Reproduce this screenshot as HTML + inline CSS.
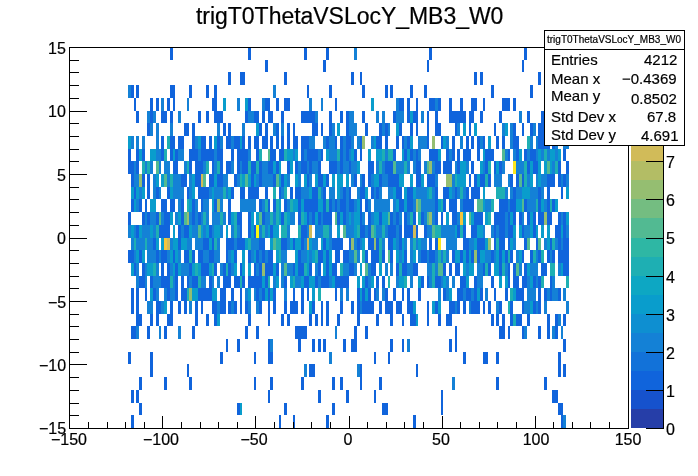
<!DOCTYPE html>
<html><head><meta charset="utf-8"><title>trigT0ThetaVSLocY_MB3_W0</title>
<style>
html,body{margin:0;padding:0;background:#fff;}
body{width:698px;height:476px;overflow:hidden;position:relative;font-family:"Liberation Sans",sans-serif;color:#000;}
svg{position:absolute;left:0;top:0;}
.t{position:absolute;white-space:nowrap;line-height:1;will-change:transform;-webkit-text-stroke:0.2px #000;}
.xl{font-size:16px;}
.st{font-size:15px;}
</style></head><body>
<svg width="698" height="476" viewBox="0 0 698 476" shape-rendering="crispEdges">
<path fill="#1064dc" d="M170 47h3v13h-3zM248 47h3v13h-3zM304 47h3v13h-3zM326 47h3v13h-3zM429 47h3v13h-3zM524 47h3v13h-3zM265 60h3v12h-3zM323 60h3v12h-3zM427 60h2v12h-2zM522 60h2v12h-2zM228 72h3v13h-3zM240 72h2v13h-2zM242 72h3v13h-3zM284 72h3v13h-3zM351 72h3v13h-3zM360 72h2v13h-2zM474 72h3v13h-3zM480 72h3v13h-3zM538 72h3v13h-3zM131 85h3v13h-3zM136 85h3v13h-3zM170 85h3v13h-3zM173 85h2v13h-2zM189 85h3v13h-3zM206 85h3v13h-3zM214 85h3v13h-3zM307 85h2v13h-2zM329 85h3v13h-3zM362 85h3v13h-3zM385 85h3v13h-3zM390 85h3v13h-3zM410 85h3v13h-3zM424 85h3v13h-3zM491 85h3v13h-3zM530 85h3v13h-3zM134 98h2v13h-2zM150 98h3v13h-3zM156 98h3v13h-3zM167 98h3v13h-3zM173 98h2v13h-2zM212 98h2v13h-2zM214 98h3v13h-3zM248 98h3v13h-3zM265 98h3v13h-3zM268 98h2v13h-2zM276 98h3v13h-3zM284 98h3v13h-3zM287 98h3v13h-3zM335 98h2v13h-2zM399 98h3v13h-3zM402 98h2v13h-2zM407 98h3v13h-3zM416 98h2v13h-2zM429 98h3v13h-3zM432 98h3v13h-3zM438 98h3v13h-3zM449 98h3v13h-3zM460 98h3v13h-3zM471 98h3v13h-3zM474 98h3v13h-3zM483 98h2v13h-2zM502 98h3v13h-3zM505 98h3v13h-3zM508 98h2v13h-2zM513 98h3v13h-3zM136 111h3v12h-3zM150 111h3v12h-3zM161 111h3v12h-3zM164 111h3v12h-3zM170 111h3v12h-3zM198 111h3v12h-3zM206 111h3v12h-3zM214 111h3v12h-3zM217 111h3v12h-3zM220 111h3v12h-3zM245 111h3v12h-3zM254 111h2v12h-2zM256 111h3v12h-3zM262 111h3v12h-3zM268 111h2v12h-2zM270 111h3v12h-3zM281 111h3v12h-3zM301 111h3v12h-3zM304 111h3v12h-3zM307 111h2v12h-2zM309 111h3v12h-3zM312 111h3v12h-3zM329 111h3v12h-3zM340 111h3v12h-3zM346 111h3v12h-3zM362 111h3v12h-3zM393 111h3v12h-3zM407 111h3v12h-3zM413 111h3v12h-3zM416 111h2v12h-2zM427 111h2v12h-2zM435 111h3v12h-3zM449 111h3v12h-3zM452 111h3v12h-3zM455 111h2v12h-2zM457 111h3v12h-3zM460 111h3v12h-3zM463 111h3v12h-3zM469 111h2v12h-2zM471 111h3v12h-3zM480 111h3v12h-3zM499 111h3v12h-3zM527 111h3v12h-3zM541 111h3v12h-3zM147 123h3v13h-3zM184 123h3v13h-3zM187 123h2v13h-2zM192 123h3v13h-3zM223 123h3v13h-3zM228 123h3v13h-3zM259 123h3v13h-3zM265 123h3v13h-3zM276 123h3v13h-3zM287 123h3v13h-3zM293 123h2v13h-2zM312 123h3v13h-3zM315 123h3v13h-3zM321 123h2v13h-2zM329 123h3v13h-3zM346 123h3v13h-3zM365 123h3v13h-3zM379 123h3v13h-3zM385 123h3v13h-3zM399 123h3v13h-3zM410 123h3v13h-3zM416 123h2v13h-2zM427 123h2v13h-2zM435 123h3v13h-3zM438 123h3v13h-3zM455 123h2v13h-2zM469 123h2v13h-2zM494 123h2v13h-2zM513 123h3v13h-3zM522 123h2v13h-2zM530 123h3v13h-3zM538 123h3v13h-3zM541 123h3v13h-3zM161 136h3v13h-3zM170 136h3v13h-3zM173 136h2v13h-2zM178 136h3v13h-3zM181 136h3v13h-3zM192 136h3v13h-3zM201 136h2v13h-2zM203 136h3v13h-3zM209 136h3v13h-3zM217 136h3v13h-3zM226 136h2v13h-2zM228 136h3v13h-3zM234 136h3v13h-3zM237 136h3v13h-3zM242 136h3v13h-3zM248 136h3v13h-3zM254 136h2v13h-2zM256 136h3v13h-3zM262 136h3v13h-3zM265 136h3v13h-3zM270 136h3v13h-3zM276 136h3v13h-3zM281 136h3v13h-3zM287 136h3v13h-3zM293 136h2v13h-2zM295 136h3v13h-3zM301 136h3v13h-3zM304 136h3v13h-3zM307 136h2v13h-2zM326 136h3v13h-3zM335 136h2v13h-2zM340 136h3v13h-3zM346 136h3v13h-3zM349 136h2v13h-2zM360 136h2v13h-2zM376 136h3v13h-3zM379 136h3v13h-3zM385 136h3v13h-3zM396 136h3v13h-3zM402 136h2v13h-2zM407 136h3v13h-3zM427 136h2v13h-2zM441 136h2v13h-2zM452 136h3v13h-3zM466 136h3v13h-3zM471 136h3v13h-3zM477 136h3v13h-3zM483 136h2v13h-2zM496 136h3v13h-3zM502 136h3v13h-3zM513 136h3v13h-3zM516 136h3v13h-3zM538 136h3v13h-3zM541 136h3v13h-3zM544 136h3v13h-3zM547 136h3v13h-3zM552 136h3v13h-3zM128 149h3v12h-3zM136 149h3v12h-3zM142 149h3v12h-3zM161 149h3v12h-3zM170 149h3v12h-3zM175 149h3v12h-3zM189 149h3v12h-3zM192 149h3v12h-3zM195 149h3v12h-3zM201 149h2v12h-2zM203 149h3v12h-3zM206 149h3v12h-3zM209 149h3v12h-3zM212 149h2v12h-2zM217 149h3v12h-3zM220 149h3v12h-3zM231 149h3v12h-3zM237 149h3v12h-3zM240 149h2v12h-2zM242 149h3v12h-3zM245 149h3v12h-3zM256 149h3v12h-3zM270 149h3v12h-3zM273 149h3v12h-3zM279 149h2v12h-2zM281 149h3v12h-3zM301 149h3v12h-3zM307 149h2v12h-2zM309 149h3v12h-3zM312 149h3v12h-3zM315 149h3v12h-3zM321 149h2v12h-2zM340 149h3v12h-3zM346 149h3v12h-3zM354 149h3v12h-3zM360 149h2v12h-2zM393 149h3v12h-3zM404 149h3v12h-3zM410 149h3v12h-3zM416 149h2v12h-2zM429 149h3v12h-3zM432 149h3v12h-3zM435 149h3v12h-3zM446 149h3v12h-3zM452 149h3v12h-3zM457 149h3v12h-3zM463 149h3v12h-3zM466 149h3v12h-3zM469 149h2v12h-2zM477 149h3v12h-3zM485 149h3v12h-3zM488 149h3v12h-3zM491 149h3v12h-3zM508 149h2v12h-2zM516 149h3v12h-3zM524 149h3v12h-3zM530 149h3v12h-3zM533 149h3v12h-3zM563 149h3v12h-3zM128 161h3v13h-3zM131 161h3v13h-3zM136 161h3v13h-3zM173 161h2v13h-2zM175 161h3v13h-3zM189 161h3v13h-3zM195 161h3v13h-3zM198 161h3v13h-3zM201 161h2v13h-2zM212 161h2v13h-2zM220 161h3v13h-3zM226 161h2v13h-2zM228 161h3v13h-3zM237 161h3v13h-3zM242 161h3v13h-3zM245 161h3v13h-3zM251 161h3v13h-3zM254 161h2v13h-2zM259 161h3v13h-3zM268 161h2v13h-2zM270 161h3v13h-3zM276 161h3v13h-3zM287 161h3v13h-3zM295 161h3v13h-3zM301 161h3v13h-3zM304 161h3v13h-3zM309 161h3v13h-3zM318 161h3v13h-3zM329 161h3v13h-3zM332 161h3v13h-3zM335 161h2v13h-2zM340 161h3v13h-3zM349 161h2v13h-2zM368 161h3v13h-3zM371 161h3v13h-3zM385 161h3v13h-3zM388 161h2v13h-2zM390 161h3v13h-3zM416 161h2v13h-2zM418 161h3v13h-3zM435 161h3v13h-3zM438 161h3v13h-3zM443 161h3v13h-3zM446 161h3v13h-3zM449 161h3v13h-3zM457 161h3v13h-3zM471 161h3v13h-3zM485 161h3v13h-3zM494 161h2v13h-2zM499 161h3v13h-3zM527 161h3v13h-3zM533 161h3v13h-3zM536 161h2v13h-2zM558 161h3v13h-3zM566 161h3v13h-3zM131 174h3v13h-3zM142 174h3v13h-3zM147 174h3v13h-3zM181 174h3v13h-3zM184 174h3v13h-3zM195 174h3v13h-3zM198 174h3v13h-3zM209 174h3v13h-3zM212 174h2v13h-2zM217 174h3v13h-3zM220 174h3v13h-3zM234 174h3v13h-3zM251 174h3v13h-3zM259 174h3v13h-3zM273 174h3v13h-3zM281 174h3v13h-3zM307 174h2v13h-2zM318 174h3v13h-3zM321 174h2v13h-2zM326 174h3v13h-3zM354 174h3v13h-3zM362 174h3v13h-3zM368 174h3v13h-3zM379 174h3v13h-3zM388 174h2v13h-2zM390 174h3v13h-3zM393 174h3v13h-3zM396 174h3v13h-3zM416 174h2v13h-2zM418 174h3v13h-3zM427 174h2v13h-2zM429 174h3v13h-3zM432 174h3v13h-3zM469 174h2v13h-2zM474 174h3v13h-3zM480 174h3v13h-3zM483 174h2v13h-2zM488 174h3v13h-3zM510 174h3v13h-3zM516 174h3v13h-3zM522 174h2v13h-2zM547 174h3v13h-3zM550 174h2v13h-2zM552 174h3v13h-3zM558 174h3v13h-3zM563 174h3v13h-3zM134 187h2v12h-2zM147 187h3v12h-3zM156 187h3v12h-3zM167 187h3v12h-3zM187 187h2v12h-2zM198 187h3v12h-3zM201 187h2v12h-2zM203 187h3v12h-3zM206 187h3v12h-3zM231 187h3v12h-3zM240 187h2v12h-2zM242 187h3v12h-3zM248 187h3v12h-3zM251 187h3v12h-3zM254 187h2v12h-2zM256 187h3v12h-3zM265 187h3v12h-3zM279 187h2v12h-2zM290 187h3v12h-3zM295 187h3v12h-3zM298 187h3v12h-3zM312 187h3v12h-3zM315 187h3v12h-3zM323 187h3v12h-3zM343 187h3v12h-3zM349 187h2v12h-2zM360 187h2v12h-2zM362 187h3v12h-3zM371 187h3v12h-3zM376 187h3v12h-3zM396 187h3v12h-3zM399 187h3v12h-3zM407 187h3v12h-3zM410 187h3v12h-3zM435 187h3v12h-3zM443 187h3v12h-3zM446 187h3v12h-3zM455 187h2v12h-2zM466 187h3v12h-3zM471 187h3v12h-3zM474 187h3v12h-3zM477 187h3v12h-3zM513 187h3v12h-3zM538 187h3v12h-3zM547 187h3v12h-3zM561 187h2v12h-2zM131 199h3v13h-3zM139 199h3v13h-3zM145 199h2v13h-2zM161 199h3v13h-3zM164 199h3v13h-3zM170 199h3v13h-3zM173 199h2v13h-2zM181 199h3v13h-3zM192 199h3v13h-3zM201 199h2v13h-2zM214 199h3v13h-3zM228 199h3v13h-3zM259 199h3v13h-3zM268 199h2v13h-2zM273 199h3v13h-3zM284 199h3v13h-3zM298 199h3v13h-3zM304 199h3v13h-3zM307 199h2v13h-2zM309 199h3v13h-3zM312 199h3v13h-3zM315 199h3v13h-3zM323 199h3v13h-3zM329 199h3v13h-3zM335 199h2v13h-2zM340 199h3v13h-3zM343 199h3v13h-3zM349 199h2v13h-2zM351 199h3v13h-3zM360 199h2v13h-2zM365 199h3v13h-3zM399 199h3v13h-3zM402 199h2v13h-2zM407 199h3v13h-3zM410 199h3v13h-3zM435 199h3v13h-3zM443 199h3v13h-3zM449 199h3v13h-3zM452 199h3v13h-3zM455 199h2v13h-2zM463 199h3v13h-3zM466 199h3v13h-3zM469 199h2v13h-2zM471 199h3v13h-3zM499 199h3v13h-3zM502 199h3v13h-3zM505 199h3v13h-3zM510 199h3v13h-3zM513 199h3v13h-3zM524 199h3v13h-3zM538 199h3v13h-3zM547 199h3v13h-3zM552 199h3v13h-3zM128 212h3v13h-3zM142 212h3v13h-3zM147 212h3v13h-3zM156 212h3v13h-3zM164 212h3v13h-3zM167 212h3v13h-3zM181 212h3v13h-3zM192 212h3v13h-3zM198 212h3v13h-3zM228 212h3v13h-3zM237 212h3v13h-3zM240 212h2v13h-2zM248 212h3v13h-3zM262 212h3v13h-3zM281 212h3v13h-3zM298 212h3v13h-3zM307 212h2v13h-2zM312 212h3v13h-3zM318 212h3v13h-3zM323 212h3v13h-3zM326 212h3v13h-3zM329 212h3v13h-3zM337 212h3v13h-3zM343 212h3v13h-3zM360 212h2v13h-2zM368 212h3v13h-3zM379 212h3v13h-3zM390 212h3v13h-3zM396 212h3v13h-3zM404 212h3v13h-3zM413 212h3v13h-3zM421 212h3v13h-3zM435 212h3v13h-3zM441 212h2v13h-2zM452 212h3v13h-3zM455 212h2v13h-2zM474 212h3v13h-3zM477 212h3v13h-3zM480 212h3v13h-3zM494 212h2v13h-2zM496 212h3v13h-3zM499 212h3v13h-3zM502 212h3v13h-3zM508 212h2v13h-2zM513 212h3v13h-3zM519 212h3v13h-3zM527 212h3v13h-3zM533 212h3v13h-3zM538 212h3v13h-3zM541 212h3v13h-3zM547 212h3v13h-3zM550 212h2v13h-2zM558 212h3v13h-3zM563 212h3v13h-3zM136 225h3v13h-3zM159 225h2v13h-2zM161 225h3v13h-3zM164 225h3v13h-3zM167 225h3v13h-3zM178 225h3v13h-3zM184 225h3v13h-3zM187 225h2v13h-2zM209 225h3v13h-3zM240 225h2v13h-2zM248 225h3v13h-3zM254 225h2v13h-2zM270 225h3v13h-3zM301 225h3v13h-3zM304 225h3v13h-3zM360 225h2v13h-2zM362 225h3v13h-3zM368 225h3v13h-3zM388 225h2v13h-2zM390 225h3v13h-3zM393 225h3v13h-3zM399 225h3v13h-3zM404 225h3v13h-3zM407 225h3v13h-3zM410 225h3v13h-3zM416 225h2v13h-2zM424 225h3v13h-3zM457 225h3v13h-3zM463 225h3v13h-3zM471 225h3v13h-3zM474 225h3v13h-3zM494 225h2v13h-2zM499 225h3v13h-3zM502 225h3v13h-3zM508 225h2v13h-2zM510 225h3v13h-3zM522 225h2v13h-2zM533 225h3v13h-3zM555 225h3v13h-3zM558 225h3v13h-3zM563 225h3v13h-3zM153 238h3v12h-3zM178 238h3v12h-3zM203 238h3v12h-3zM206 238h3v12h-3zM212 238h2v12h-2zM226 238h2v12h-2zM228 238h3v12h-3zM231 238h3v12h-3zM237 238h3v12h-3zM240 238h2v12h-2zM242 238h3v12h-3zM259 238h3v12h-3zM262 238h3v12h-3zM281 238h3v12h-3zM284 238h3v12h-3zM293 238h2v12h-2zM301 238h3v12h-3zM323 238h3v12h-3zM332 238h3v12h-3zM335 238h2v12h-2zM337 238h3v12h-3zM340 238h3v12h-3zM349 238h2v12h-2zM357 238h3v12h-3zM368 238h3v12h-3zM371 238h3v12h-3zM376 238h3v12h-3zM388 238h2v12h-2zM390 238h3v12h-3zM399 238h3v12h-3zM429 238h3v12h-3zM435 238h3v12h-3zM463 238h3v12h-3zM466 238h3v12h-3zM477 238h3v12h-3zM480 238h3v12h-3zM483 238h2v12h-2zM494 238h2v12h-2zM499 238h3v12h-3zM502 238h3v12h-3zM508 238h2v12h-2zM524 238h3v12h-3zM536 238h2v12h-2zM550 238h2v12h-2zM558 238h3v12h-3zM563 238h3v12h-3zM566 238h3v12h-3zM128 250h3v13h-3zM131 250h3v13h-3zM139 250h3v13h-3zM156 250h3v13h-3zM161 250h3v13h-3zM164 250h3v13h-3zM173 250h2v13h-2zM184 250h3v13h-3zM187 250h2v13h-2zM192 250h3v13h-3zM198 250h3v13h-3zM201 250h2v13h-2zM209 250h3v13h-3zM212 250h2v13h-2zM226 250h2v13h-2zM234 250h3v13h-3zM248 250h3v13h-3zM256 250h3v13h-3zM262 250h3v13h-3zM268 250h2v13h-2zM270 250h3v13h-3zM298 250h3v13h-3zM318 250h3v13h-3zM321 250h2v13h-2zM326 250h3v13h-3zM335 250h2v13h-2zM337 250h3v13h-3zM343 250h3v13h-3zM346 250h3v13h-3zM365 250h3v13h-3zM371 250h3v13h-3zM374 250h2v13h-2zM376 250h3v13h-3zM382 250h3v13h-3zM390 250h3v13h-3zM404 250h3v13h-3zM421 250h3v13h-3zM424 250h3v13h-3zM429 250h3v13h-3zM432 250h3v13h-3zM452 250h3v13h-3zM460 250h3v13h-3zM466 250h3v13h-3zM471 250h3v13h-3zM477 250h3v13h-3zM491 250h3v13h-3zM499 250h3v13h-3zM505 250h3v13h-3zM510 250h3v13h-3zM522 250h2v13h-2zM530 250h3v13h-3zM538 250h3v13h-3zM547 250h3v13h-3zM552 250h3v13h-3zM558 250h3v13h-3zM561 250h2v13h-2zM563 250h3v13h-3zM566 250h3v13h-3zM134 263h2v13h-2zM142 263h3v13h-3zM161 263h3v13h-3zM167 263h3v13h-3zM175 263h3v13h-3zM189 263h3v13h-3zM201 263h2v13h-2zM203 263h3v13h-3zM206 263h3v13h-3zM214 263h3v13h-3zM223 263h3v13h-3zM228 263h3v13h-3zM240 263h2v13h-2zM254 263h2v13h-2zM259 263h3v13h-3zM265 263h3v13h-3zM268 263h2v13h-2zM270 263h3v13h-3zM276 263h3v13h-3zM293 263h2v13h-2zM298 263h3v13h-3zM301 263h3v13h-3zM309 263h3v13h-3zM318 263h3v13h-3zM326 263h3v13h-3zM332 263h3v13h-3zM335 263h2v13h-2zM349 263h2v13h-2zM351 263h3v13h-3zM371 263h3v13h-3zM374 263h2v13h-2zM396 263h3v13h-3zM402 263h2v13h-2zM404 263h3v13h-3zM413 263h3v13h-3zM416 263h2v13h-2zM443 263h3v13h-3zM449 263h3v13h-3zM455 263h2v13h-2zM457 263h3v13h-3zM483 263h2v13h-2zM488 263h3v13h-3zM499 263h3v13h-3zM508 263h2v13h-2zM513 263h3v13h-3zM524 263h3v13h-3zM541 263h3v13h-3zM544 263h3v13h-3zM563 263h3v13h-3zM566 263h3v13h-3zM139 276h3v12h-3zM142 276h3v12h-3zM150 276h3v12h-3zM161 276h3v12h-3zM164 276h3v12h-3zM167 276h3v12h-3zM175 276h3v12h-3zM181 276h3v12h-3zM187 276h2v12h-2zM192 276h3v12h-3zM195 276h3v12h-3zM209 276h3v12h-3zM223 276h3v12h-3zM226 276h2v12h-2zM228 276h3v12h-3zM234 276h3v12h-3zM237 276h3v12h-3zM242 276h3v12h-3zM248 276h3v12h-3zM251 276h3v12h-3zM254 276h2v12h-2zM256 276h3v12h-3zM259 276h3v12h-3zM265 276h3v12h-3zM284 276h3v12h-3zM304 276h3v12h-3zM307 276h2v12h-2zM315 276h3v12h-3zM321 276h2v12h-2zM323 276h3v12h-3zM326 276h3v12h-3zM335 276h2v12h-2zM337 276h3v12h-3zM340 276h3v12h-3zM343 276h3v12h-3zM346 276h3v12h-3zM365 276h3v12h-3zM376 276h3v12h-3zM382 276h3v12h-3zM421 276h3v12h-3zM427 276h2v12h-2zM435 276h3v12h-3zM438 276h3v12h-3zM460 276h3v12h-3zM463 276h3v12h-3zM474 276h3v12h-3zM491 276h3v12h-3zM508 276h2v12h-2zM513 276h3v12h-3zM516 276h3v12h-3zM522 276h2v12h-2zM524 276h3v12h-3zM533 276h3v12h-3zM538 276h3v12h-3zM550 276h2v12h-2zM131 288h3v13h-3zM136 288h3v13h-3zM145 288h2v13h-2zM153 288h3v13h-3zM167 288h3v13h-3zM175 288h3v13h-3zM181 288h3v13h-3zM184 288h3v13h-3zM198 288h3v13h-3zM201 288h2v13h-2zM203 288h3v13h-3zM206 288h3v13h-3zM209 288h3v13h-3zM220 288h3v13h-3zM223 288h3v13h-3zM231 288h3v13h-3zM240 288h2v13h-2zM256 288h3v13h-3zM262 288h3v13h-3zM268 288h2v13h-2zM273 288h3v13h-3zM293 288h2v13h-2zM301 288h3v13h-3zM307 288h2v13h-2zM335 288h2v13h-2zM357 288h3v13h-3zM362 288h3v13h-3zM368 288h3v13h-3zM374 288h2v13h-2zM385 288h3v13h-3zM393 288h3v13h-3zM402 288h2v13h-2zM407 288h3v13h-3zM418 288h3v13h-3zM443 288h3v13h-3zM457 288h3v13h-3zM460 288h3v13h-3zM466 288h3v13h-3zM469 288h2v13h-2zM474 288h3v13h-3zM480 288h3v13h-3zM494 288h2v13h-2zM505 288h3v13h-3zM516 288h3v13h-3zM519 288h3v13h-3zM522 288h2v13h-2zM538 288h3v13h-3zM544 288h3v13h-3zM550 288h2v13h-2zM558 288h3v13h-3zM131 301h3v13h-3zM136 301h3v13h-3zM156 301h3v13h-3zM159 301h2v13h-2zM170 301h3v13h-3zM178 301h3v13h-3zM184 301h3v13h-3zM195 301h3v13h-3zM201 301h2v13h-2zM212 301h2v13h-2zM214 301h3v13h-3zM220 301h3v13h-3zM223 301h3v13h-3zM228 301h3v13h-3zM234 301h3v13h-3zM240 301h2v13h-2zM245 301h3v13h-3zM259 301h3v13h-3zM268 301h2v13h-2zM273 301h3v13h-3zM284 301h3v13h-3zM290 301h3v13h-3zM293 301h2v13h-2zM295 301h3v13h-3zM301 301h3v13h-3zM312 301h3v13h-3zM321 301h2v13h-2zM326 301h3v13h-3zM340 301h3v13h-3zM351 301h3v13h-3zM357 301h3v13h-3zM362 301h3v13h-3zM365 301h3v13h-3zM368 301h3v13h-3zM371 301h3v13h-3zM379 301h3v13h-3zM385 301h3v13h-3zM388 301h2v13h-2zM390 301h3v13h-3zM396 301h3v13h-3zM399 301h3v13h-3zM407 301h3v13h-3zM410 301h3v13h-3zM427 301h2v13h-2zM435 301h3v13h-3zM449 301h3v13h-3zM452 301h3v13h-3zM457 301h3v13h-3zM463 301h3v13h-3zM471 301h3v13h-3zM474 301h3v13h-3zM477 301h3v13h-3zM483 301h2v13h-2zM488 301h3v13h-3zM499 301h3v13h-3zM510 301h3v13h-3zM522 301h2v13h-2zM533 301h3v13h-3zM538 301h3v13h-3zM136 314h3v12h-3zM139 314h3v12h-3zM150 314h3v12h-3zM156 314h3v12h-3zM167 314h3v12h-3zM170 314h3v12h-3zM195 314h3v12h-3zM206 314h3v12h-3zM214 314h3v12h-3zM248 314h3v12h-3zM268 314h2v12h-2zM281 314h3v12h-3zM287 314h3v12h-3zM309 314h3v12h-3zM315 314h3v12h-3zM321 314h2v12h-2zM326 314h3v12h-3zM337 314h3v12h-3zM357 314h3v12h-3zM376 314h3v12h-3zM390 314h3v12h-3zM402 314h2v12h-2zM410 314h3v12h-3zM413 314h3v12h-3zM427 314h2v12h-2zM438 314h3v12h-3zM446 314h3v12h-3zM449 314h3v12h-3zM491 314h3v12h-3zM496 314h3v12h-3zM502 314h3v12h-3zM510 314h3v12h-3zM516 314h3v12h-3zM519 314h3v12h-3zM527 314h3v12h-3zM547 314h3v12h-3zM555 314h3v12h-3zM563 314h3v12h-3zM131 326h3v13h-3zM134 326h2v13h-2zM147 326h3v13h-3zM164 326h3v13h-3zM192 326h3v13h-3zM245 326h3v13h-3zM256 326h3v13h-3zM295 326h3v13h-3zM298 326h3v13h-3zM301 326h3v13h-3zM304 326h3v13h-3zM354 326h3v13h-3zM365 326h3v13h-3zM455 326h2v13h-2zM499 326h3v13h-3zM502 326h3v13h-3zM508 326h2v13h-2zM522 326h2v13h-2zM538 326h3v13h-3zM547 326h3v13h-3zM555 326h3v13h-3zM226 339h2v13h-2zM237 339h3v13h-3zM268 339h2v13h-2zM298 339h3v13h-3zM312 339h3v13h-3zM318 339h3v13h-3zM323 339h3v13h-3zM343 339h3v13h-3zM351 339h3v13h-3zM354 339h3v13h-3zM390 339h3v13h-3zM402 339h2v13h-2zM449 339h3v13h-3zM455 339h2v13h-2zM563 339h3v13h-3zM128 352h3v12h-3zM150 352h3v12h-3zM220 352h3v12h-3zM254 352h2v12h-2zM268 352h2v12h-2zM270 352h3v12h-3zM374 352h2v12h-2zM388 352h2v12h-2zM463 352h3v12h-3zM483 352h2v12h-2zM485 352h3v12h-3zM496 352h3v12h-3zM558 352h3v12h-3zM150 364h3v13h-3zM187 364h2v13h-2zM309 364h3v13h-3zM312 364h3v13h-3zM360 364h2v13h-2zM416 364h2v13h-2zM558 364h3v13h-3zM563 364h3v13h-3zM139 377h3v13h-3zM164 377h3v13h-3zM189 377h3v13h-3zM254 377h2v13h-2zM270 377h3v13h-3zM301 377h3v13h-3zM332 377h3v13h-3zM340 377h3v13h-3zM360 377h2v13h-2zM379 377h3v13h-3zM496 377h3v13h-3zM544 377h3v13h-3zM131 390h3v13h-3zM136 390h3v13h-3zM268 390h2v13h-2zM318 390h3v13h-3zM346 390h3v13h-3zM374 390h2v13h-2zM441 390h2v13h-2zM552 390h3v13h-3zM555 390h3v13h-3zM139 403h3v12h-3zM237 403h3v12h-3zM284 403h3v12h-3zM332 403h3v12h-3zM382 403h3v12h-3zM385 403h3v12h-3zM441 403h2v12h-2zM558 403h3v12h-3zM561 403h2v12h-2zM131 415h3v13h-3zM279 415h2v13h-2zM293 415h2v13h-2zM326 415h3v13h-3zM413 415h3v13h-3zM561 415h2v13h-2z"/>
<path fill="#1481d6" d="M354 47h3v13h-3zM128 85h3v13h-3zM273 85h3v13h-3zM161 98h3v13h-3zM187 98h2v13h-2zM237 98h3v13h-3zM262 98h3v13h-3zM309 98h3v13h-3zM321 98h2v13h-2zM396 98h3v13h-3zM435 98h3v13h-3zM147 111h3v12h-3zM153 111h3v12h-3zM178 111h3v12h-3zM248 111h3v12h-3zM251 111h3v12h-3zM315 111h3v12h-3zM349 111h2v12h-2zM351 111h3v12h-3zM376 111h3v12h-3zM382 111h3v12h-3zM396 111h3v12h-3zM399 111h3v12h-3zM402 111h2v12h-2zM421 111h3v12h-3zM519 111h3v12h-3zM150 123h3v13h-3zM156 123h3v13h-3zM170 123h3v13h-3zM217 123h3v13h-3zM242 123h3v13h-3zM273 123h3v13h-3zM281 123h3v13h-3zM332 123h3v13h-3zM349 123h2v13h-2zM351 123h3v13h-3zM354 123h3v13h-3zM382 123h3v13h-3zM388 123h2v13h-2zM457 123h3v13h-3zM502 123h3v13h-3zM510 123h3v13h-3zM533 123h3v13h-3zM131 136h3v13h-3zM136 136h3v13h-3zM142 136h3v13h-3zM156 136h3v13h-3zM195 136h3v13h-3zM220 136h3v13h-3zM231 136h3v13h-3zM309 136h3v13h-3zM312 136h3v13h-3zM323 136h3v13h-3zM329 136h3v13h-3zM332 136h3v13h-3zM343 136h3v13h-3zM351 136h3v13h-3zM357 136h3v13h-3zM371 136h3v13h-3zM404 136h3v13h-3zM418 136h3v13h-3zM421 136h3v13h-3zM424 136h3v13h-3zM446 136h3v13h-3zM460 136h3v13h-3zM480 136h3v13h-3zM510 136h3v13h-3zM530 136h3v13h-3zM536 136h2v13h-2zM555 136h3v13h-3zM563 136h3v13h-3zM566 136h3v13h-3zM156 149h3v12h-3zM159 149h2v12h-2zM178 149h3v12h-3zM181 149h3v12h-3zM198 149h3v12h-3zM214 149h3v12h-3zM248 149h3v12h-3zM293 149h2v12h-2zM304 149h3v12h-3zM318 149h3v12h-3zM329 149h3v12h-3zM332 149h3v12h-3zM335 149h2v12h-2zM343 149h3v12h-3zM349 149h2v12h-2zM385 149h3v12h-3zM413 149h3v12h-3zM418 149h3v12h-3zM449 149h3v12h-3zM505 149h3v12h-3zM513 149h3v12h-3zM527 149h3v12h-3zM536 149h2v12h-2zM541 149h3v12h-3zM547 149h3v12h-3zM555 149h3v12h-3zM134 161h2v13h-2zM145 161h2v13h-2zM150 161h3v13h-3zM159 161h2v13h-2zM164 161h3v13h-3zM167 161h3v13h-3zM184 161h3v13h-3zM203 161h3v13h-3zM214 161h3v13h-3zM231 161h3v13h-3zM240 161h2v13h-2zM262 161h3v13h-3zM265 161h3v13h-3zM298 161h3v13h-3zM307 161h2v13h-2zM312 161h3v13h-3zM315 161h3v13h-3zM337 161h3v13h-3zM343 161h3v13h-3zM346 161h3v13h-3zM351 161h3v13h-3zM354 161h3v13h-3zM376 161h3v13h-3zM382 161h3v13h-3zM396 161h3v13h-3zM399 161h3v13h-3zM402 161h2v13h-2zM407 161h3v13h-3zM413 161h3v13h-3zM424 161h3v13h-3zM432 161h3v13h-3zM455 161h2v13h-2zM466 161h3v13h-3zM483 161h2v13h-2zM502 161h3v13h-3zM516 161h3v13h-3zM519 161h3v13h-3zM522 161h2v13h-2zM552 161h3v13h-3zM134 174h2v13h-2zM136 174h3v13h-3zM153 174h3v13h-3zM167 174h3v13h-3zM173 174h2v13h-2zM175 174h3v13h-3zM178 174h3v13h-3zM189 174h3v13h-3zM223 174h3v13h-3zM226 174h2v13h-2zM237 174h3v13h-3zM256 174h3v13h-3zM262 174h3v13h-3zM265 174h3v13h-3zM268 174h2v13h-2zM270 174h3v13h-3zM287 174h3v13h-3zM298 174h3v13h-3zM309 174h3v13h-3zM351 174h3v13h-3zM360 174h2v13h-2zM371 174h3v13h-3zM382 174h3v13h-3zM385 174h3v13h-3zM435 174h3v13h-3zM452 174h3v13h-3zM494 174h2v13h-2zM496 174h3v13h-3zM499 174h3v13h-3zM508 174h2v13h-2zM527 174h3v13h-3zM536 174h2v13h-2zM541 174h3v13h-3zM544 174h3v13h-3zM561 174h2v13h-2zM566 174h3v13h-3zM139 187h3v12h-3zM153 187h3v12h-3zM159 187h2v12h-2zM173 187h2v12h-2zM175 187h3v12h-3zM178 187h3v12h-3zM181 187h3v12h-3zM189 187h3v12h-3zM209 187h3v12h-3zM214 187h3v12h-3zM217 187h3v12h-3zM220 187h3v12h-3zM226 187h2v12h-2zM281 187h3v12h-3zM301 187h3v12h-3zM304 187h3v12h-3zM307 187h2v12h-2zM321 187h2v12h-2zM329 187h3v12h-3zM332 187h3v12h-3zM340 187h3v12h-3zM346 187h3v12h-3zM357 187h3v12h-3zM374 187h2v12h-2zM379 187h3v12h-3zM388 187h2v12h-2zM390 187h3v12h-3zM416 187h2v12h-2zM418 187h3v12h-3zM421 187h3v12h-3zM424 187h3v12h-3zM432 187h3v12h-3zM452 187h3v12h-3zM457 187h3v12h-3zM463 187h3v12h-3zM505 187h3v12h-3zM510 187h3v12h-3zM516 187h3v12h-3zM519 187h3v12h-3zM530 187h3v12h-3zM533 187h3v12h-3zM536 187h2v12h-2zM541 187h3v12h-3zM136 199h3v13h-3zM178 199h3v13h-3zM195 199h3v13h-3zM203 199h3v13h-3zM206 199h3v13h-3zM220 199h3v13h-3zM240 199h2v13h-2zM242 199h3v13h-3zM245 199h3v13h-3zM248 199h3v13h-3zM251 199h3v13h-3zM254 199h2v13h-2zM262 199h3v13h-3zM287 199h3v13h-3zM332 199h3v13h-3zM337 199h3v13h-3zM346 199h3v13h-3zM354 199h3v13h-3zM368 199h3v13h-3zM374 199h2v13h-2zM376 199h3v13h-3zM379 199h3v13h-3zM382 199h3v13h-3zM385 199h3v13h-3zM388 199h2v13h-2zM393 199h3v13h-3zM413 199h3v13h-3zM421 199h3v13h-3zM424 199h3v13h-3zM427 199h2v13h-2zM429 199h3v13h-3zM432 199h3v13h-3zM460 199h3v13h-3zM485 199h3v13h-3zM488 199h3v13h-3zM508 199h2v13h-2zM527 199h3v13h-3zM530 199h3v13h-3zM533 199h3v13h-3zM544 199h3v13h-3zM145 212h2v13h-2zM150 212h3v13h-3zM153 212h3v13h-3zM161 212h3v13h-3zM175 212h3v13h-3zM189 212h3v13h-3zM195 212h3v13h-3zM201 212h2v13h-2zM206 212h3v13h-3zM212 212h2v13h-2zM214 212h3v13h-3zM217 212h3v13h-3zM223 212h3v13h-3zM265 212h3v13h-3zM268 212h2v13h-2zM273 212h3v13h-3zM290 212h3v13h-3zM293 212h2v13h-2zM309 212h3v13h-3zM321 212h2v13h-2zM346 212h3v13h-3zM351 212h3v13h-3zM362 212h3v13h-3zM371 212h3v13h-3zM393 212h3v13h-3zM399 212h3v13h-3zM407 212h3v13h-3zM424 212h3v13h-3zM432 212h3v13h-3zM457 212h3v13h-3zM505 212h3v13h-3zM522 212h2v13h-2zM561 212h2v13h-2zM128 225h3v13h-3zM134 225h2v13h-2zM142 225h3v13h-3zM145 225h2v13h-2zM147 225h3v13h-3zM153 225h3v13h-3zM181 225h3v13h-3zM192 225h3v13h-3zM195 225h3v13h-3zM203 225h3v13h-3zM212 225h2v13h-2zM220 225h3v13h-3zM231 225h3v13h-3zM237 225h3v13h-3zM259 225h3v13h-3zM265 225h3v13h-3zM287 225h3v13h-3zM307 225h2v13h-2zM315 225h3v13h-3zM318 225h3v13h-3zM321 225h2v13h-2zM329 225h3v13h-3zM346 225h3v13h-3zM349 225h2v13h-2zM351 225h3v13h-3zM365 225h3v13h-3zM376 225h3v13h-3zM379 225h3v13h-3zM385 225h3v13h-3zM396 225h3v13h-3zM427 225h2v13h-2zM429 225h3v13h-3zM441 225h2v13h-2zM443 225h3v13h-3zM446 225h3v13h-3zM449 225h3v13h-3zM452 225h3v13h-3zM483 225h2v13h-2zM491 225h3v13h-3zM496 225h3v13h-3zM505 225h3v13h-3zM524 225h3v13h-3zM527 225h3v13h-3zM566 225h3v13h-3zM131 238h3v12h-3zM136 238h3v12h-3zM139 238h3v12h-3zM142 238h3v12h-3zM147 238h3v12h-3zM150 238h3v12h-3zM170 238h3v12h-3zM187 238h2v12h-2zM189 238h3v12h-3zM195 238h3v12h-3zM198 238h3v12h-3zM201 238h2v12h-2zM217 238h3v12h-3zM234 238h3v12h-3zM251 238h3v12h-3zM254 238h2v12h-2zM256 238h3v12h-3zM287 238h3v12h-3zM304 238h3v12h-3zM312 238h3v12h-3zM315 238h3v12h-3zM329 238h3v12h-3zM354 238h3v12h-3zM360 238h2v12h-2zM382 238h3v12h-3zM396 238h3v12h-3zM404 238h3v12h-3zM410 238h3v12h-3zM416 238h2v12h-2zM421 238h3v12h-3zM424 238h3v12h-3zM446 238h3v12h-3zM449 238h3v12h-3zM452 238h3v12h-3zM455 238h2v12h-2zM469 238h2v12h-2zM471 238h3v12h-3zM513 238h3v12h-3zM544 238h3v12h-3zM555 238h3v12h-3zM561 238h2v12h-2zM134 250h2v13h-2zM147 250h3v13h-3zM150 250h3v13h-3zM153 250h3v13h-3zM159 250h2v13h-2zM167 250h3v13h-3zM178 250h3v13h-3zM203 250h3v13h-3zM206 250h3v13h-3zM214 250h3v13h-3zM217 250h3v13h-3zM228 250h3v13h-3zM251 250h3v13h-3zM259 250h3v13h-3zM265 250h3v13h-3zM281 250h3v13h-3zM284 250h3v13h-3zM301 250h3v13h-3zM304 250h3v13h-3zM309 250h3v13h-3zM349 250h2v13h-2zM351 250h3v13h-3zM357 250h3v13h-3zM399 250h3v13h-3zM410 250h3v13h-3zM418 250h3v13h-3zM427 250h2v13h-2zM435 250h3v13h-3zM441 250h2v13h-2zM446 250h3v13h-3zM485 250h3v13h-3zM488 250h3v13h-3zM494 250h2v13h-2zM516 250h3v13h-3zM536 250h2v13h-2zM550 250h2v13h-2zM136 263h3v13h-3zM145 263h2v13h-2zM156 263h3v13h-3zM170 263h3v13h-3zM181 263h3v13h-3zM184 263h3v13h-3zM187 263h2v13h-2zM220 263h3v13h-3zM231 263h3v13h-3zM256 263h3v13h-3zM281 263h3v13h-3zM287 263h3v13h-3zM290 263h3v13h-3zM315 263h3v13h-3zM343 263h3v13h-3zM346 263h3v13h-3zM354 263h3v13h-3zM368 263h3v13h-3zM385 263h3v13h-3zM390 263h3v13h-3zM407 263h3v13h-3zM410 263h3v13h-3zM427 263h2v13h-2zM429 263h3v13h-3zM435 263h3v13h-3zM466 263h3v13h-3zM477 263h3v13h-3zM480 263h3v13h-3zM505 263h3v13h-3zM519 263h3v13h-3zM530 263h3v13h-3zM533 263h3v13h-3zM536 263h2v13h-2zM558 263h3v13h-3zM136 276h3v12h-3zM145 276h2v12h-2zM153 276h3v12h-3zM156 276h3v12h-3zM159 276h2v12h-2zM173 276h2v12h-2zM189 276h3v12h-3zM201 276h2v12h-2zM203 276h3v12h-3zM212 276h2v12h-2zM217 276h3v12h-3zM273 276h3v12h-3zM281 276h3v12h-3zM295 276h3v12h-3zM298 276h3v12h-3zM318 276h3v12h-3zM329 276h3v12h-3zM368 276h3v12h-3zM396 276h3v12h-3zM410 276h3v12h-3zM429 276h3v12h-3zM441 276h2v12h-2zM446 276h3v12h-3zM452 276h3v12h-3zM477 276h3v12h-3zM480 276h3v12h-3zM527 276h3v12h-3zM536 276h2v12h-2zM552 276h3v12h-3zM156 288h3v13h-3zM164 288h3v13h-3zM170 288h3v13h-3zM173 288h2v13h-2zM245 288h3v13h-3zM254 288h2v13h-2zM259 288h3v13h-3zM284 288h3v13h-3zM340 288h3v13h-3zM346 288h3v13h-3zM376 288h3v13h-3zM382 288h3v13h-3zM438 288h3v13h-3zM446 288h3v13h-3zM463 288h3v13h-3zM471 288h3v13h-3zM485 288h3v13h-3zM527 288h3v13h-3zM530 288h3v13h-3zM533 288h3v13h-3zM547 288h3v13h-3zM552 288h3v13h-3zM555 288h3v13h-3zM563 288h3v13h-3zM147 301h3v13h-3zM150 301h3v13h-3zM161 301h3v13h-3zM189 301h3v13h-3zM217 301h3v13h-3zM231 301h3v13h-3zM248 301h3v13h-3zM256 301h3v13h-3zM360 301h2v13h-2zM455 301h2v13h-2zM469 301h2v13h-2zM496 301h3v13h-3zM524 301h3v13h-3zM527 301h3v13h-3zM536 301h2v13h-2zM544 301h3v13h-3zM566 301h3v13h-3zM558 314h3v12h-3zM136 326h3v13h-3zM159 326h2v13h-2zM178 326h3v13h-3zM335 326h2v13h-2zM524 326h3v13h-3zM552 326h3v13h-3zM561 326h2v13h-2zM270 339h3v13h-3zM407 339h3v13h-3zM329 352h3v12h-3zM304 364h3v13h-3zM357 364h3v13h-3zM452 377h3v13h-3zM563 415h3v13h-3z"/>
<path fill="#099dcc" d="M223 98h3v13h-3zM245 98h3v13h-3zM371 98h3v13h-3zM410 111h3v12h-3zM256 123h3v13h-3zM337 123h3v13h-3zM396 123h3v13h-3zM463 123h3v13h-3zM474 123h3v13h-3zM505 123h3v13h-3zM128 136h3v13h-3zM198 136h3v13h-3zM214 136h3v13h-3zM240 136h2v13h-2zM374 136h2v13h-2zM410 136h3v13h-3zM443 136h3v13h-3zM488 136h3v13h-3zM139 149h3v12h-3zM150 149h3v12h-3zM153 149h3v12h-3zM173 149h2v12h-2zM287 149h3v12h-3zM290 149h3v12h-3zM295 149h3v12h-3zM326 149h3v12h-3zM351 149h3v12h-3zM368 149h3v12h-3zM376 149h3v12h-3zM379 149h3v12h-3zM402 149h2v12h-2zM407 149h3v12h-3zM438 149h3v12h-3zM483 149h2v12h-2zM519 149h3v12h-3zM538 149h3v12h-3zM550 149h2v12h-2zM552 149h3v12h-3zM558 149h3v12h-3zM273 161h3v13h-3zM279 161h2v13h-2zM290 161h3v13h-3zM357 161h3v13h-3zM460 161h3v13h-3zM463 161h3v13h-3zM480 161h3v13h-3zM496 161h3v13h-3zM530 161h3v13h-3zM538 161h3v13h-3zM544 161h3v13h-3zM550 161h2v13h-2zM156 174h3v13h-3zM161 174h3v13h-3zM192 174h3v13h-3zM214 174h3v13h-3zM242 174h3v13h-3zM248 174h3v13h-3zM254 174h2v13h-2zM279 174h2v13h-2zM284 174h3v13h-3zM295 174h3v13h-3zM304 174h3v13h-3zM315 174h3v13h-3zM323 174h3v13h-3zM332 174h3v13h-3zM337 174h3v13h-3zM340 174h3v13h-3zM346 174h3v13h-3zM374 174h2v13h-2zM376 174h3v13h-3zM399 174h3v13h-3zM402 174h2v13h-2zM410 174h3v13h-3zM421 174h3v13h-3zM457 174h3v13h-3zM460 174h3v13h-3zM463 174h3v13h-3zM477 174h3v13h-3zM530 174h3v13h-3zM538 174h3v13h-3zM131 187h3v12h-3zM136 187h3v12h-3zM142 187h3v12h-3zM170 187h3v12h-3zM192 187h3v12h-3zM212 187h2v12h-2zM228 187h3v12h-3zM309 187h3v12h-3zM337 187h3v12h-3zM365 187h3v12h-3zM393 187h3v12h-3zM404 187h3v12h-3zM413 187h3v12h-3zM427 187h2v12h-2zM449 187h3v12h-3zM483 187h2v12h-2zM522 187h2v12h-2zM524 187h3v12h-3zM527 187h3v12h-3zM566 187h3v12h-3zM134 199h2v13h-2zM150 199h3v13h-3zM153 199h3v13h-3zM189 199h3v13h-3zM212 199h2v13h-2zM279 199h2v13h-2zM293 199h2v13h-2zM295 199h3v13h-3zM301 199h3v13h-3zM318 199h3v13h-3zM321 199h2v13h-2zM357 199h3v13h-3zM396 199h3v13h-3zM404 199h3v13h-3zM438 199h3v13h-3zM483 199h2v13h-2zM516 199h3v13h-3zM519 199h3v13h-3zM541 199h3v13h-3zM555 199h3v13h-3zM170 212h3v13h-3zM178 212h3v13h-3zM231 212h3v13h-3zM251 212h3v13h-3zM256 212h3v13h-3zM279 212h2v13h-2zM287 212h3v13h-3zM304 212h3v13h-3zM315 212h3v13h-3zM340 212h3v13h-3zM349 212h2v13h-2zM354 212h3v13h-3zM357 212h3v13h-3zM374 212h2v13h-2zM376 212h3v13h-3zM382 212h3v13h-3zM385 212h3v13h-3zM446 212h3v13h-3zM463 212h3v13h-3zM471 212h3v13h-3zM485 212h3v13h-3zM510 212h3v13h-3zM530 212h3v13h-3zM566 212h3v13h-3zM131 225h3v13h-3zM139 225h3v13h-3zM150 225h3v13h-3zM173 225h2v13h-2zM189 225h3v13h-3zM201 225h2v13h-2zM206 225h3v13h-3zM214 225h3v13h-3zM217 225h3v13h-3zM226 225h2v13h-2zM251 225h3v13h-3zM268 225h2v13h-2zM273 225h3v13h-3zM276 225h3v13h-3zM337 225h3v13h-3zM354 225h3v13h-3zM455 225h2v13h-2zM477 225h3v13h-3zM480 225h3v13h-3zM513 225h3v13h-3zM519 225h3v13h-3zM530 225h3v13h-3zM536 225h2v13h-2zM541 225h3v13h-3zM547 225h3v13h-3zM561 225h2v13h-2zM156 238h3v12h-3zM161 238h3v12h-3zM173 238h2v12h-2zM175 238h3v12h-3zM181 238h3v12h-3zM184 238h3v12h-3zM209 238h3v12h-3zM245 238h3v12h-3zM270 238h3v12h-3zM290 238h3v12h-3zM295 238h3v12h-3zM298 238h3v12h-3zM309 238h3v12h-3zM321 238h2v12h-2zM326 238h3v12h-3zM362 238h3v12h-3zM393 238h3v12h-3zM402 238h2v12h-2zM418 238h3v12h-3zM474 238h3v12h-3zM485 238h3v12h-3zM510 238h3v12h-3zM547 238h3v12h-3zM136 250h3v13h-3zM142 250h3v13h-3zM170 250h3v13h-3zM175 250h3v13h-3zM231 250h3v13h-3zM242 250h3v13h-3zM254 250h2v13h-2zM276 250h3v13h-3zM295 250h3v13h-3zM307 250h2v13h-2zM312 250h3v13h-3zM323 250h3v13h-3zM329 250h3v13h-3zM396 250h3v13h-3zM402 250h2v13h-2zM413 250h3v13h-3zM455 250h2v13h-2zM457 250h3v13h-3zM463 250h3v13h-3zM469 250h2v13h-2zM480 250h3v13h-3zM483 250h2v13h-2zM496 250h3v13h-3zM502 250h3v13h-3zM519 250h3v13h-3zM131 263h3v13h-3zM147 263h3v13h-3zM150 263h3v13h-3zM173 263h2v13h-2zM178 263h3v13h-3zM192 263h3v13h-3zM198 263h3v13h-3zM209 263h3v13h-3zM234 263h3v13h-3zM242 263h3v13h-3zM248 263h3v13h-3zM273 263h3v13h-3zM295 263h3v13h-3zM307 263h2v13h-2zM323 263h3v13h-3zM329 263h3v13h-3zM360 263h2v13h-2zM379 263h3v13h-3zM463 263h3v13h-3zM469 263h2v13h-2zM471 263h3v13h-3zM494 263h2v13h-2zM496 263h3v13h-3zM527 263h3v13h-3zM561 263h2v13h-2zM262 276h3v12h-3zM276 276h3v12h-3zM290 276h3v12h-3zM301 276h3v12h-3zM309 276h3v12h-3zM312 276h3v12h-3zM332 276h3v12h-3zM357 276h3v12h-3zM362 276h3v12h-3zM371 276h3v12h-3zM399 276h3v12h-3zM402 276h2v12h-2zM418 276h3v12h-3zM443 276h3v12h-3zM466 276h3v12h-3zM499 276h3v12h-3zM505 276h3v12h-3zM530 276h3v12h-3zM150 288h3v13h-3zM192 288h3v13h-3zM195 288h3v13h-3zM212 288h2v13h-2zM214 288h3v13h-3zM248 288h3v13h-3zM265 288h3v13h-3zM270 288h3v13h-3zM312 288h3v13h-3zM360 288h2v13h-2zM365 288h3v13h-3zM449 288h3v13h-3zM477 288h3v13h-3zM513 288h3v13h-3zM164 301h3v13h-3zM309 301h3v13h-3zM413 301h3v13h-3zM432 301h3v13h-3zM438 301h3v13h-3zM530 301h3v13h-3zM217 314h3v12h-3zM416 314h2v12h-2zM240 403h2v12h-2z"/>
<path fill="#1eafb3" d="M167 136h3v13h-3zM527 136h3v13h-3zM164 149h3v12h-3zM259 149h3v12h-3zM284 149h3v12h-3zM337 149h3v12h-3zM382 149h3v12h-3zM388 149h2v12h-2zM390 149h3v12h-3zM544 149h3v12h-3zM142 161h3v13h-3zM147 161h3v13h-3zM187 161h2v13h-2zM206 161h3v13h-3zM217 161h3v13h-3zM248 161h3v13h-3zM256 161h3v13h-3zM379 161h3v13h-3zM404 161h3v13h-3zM488 161h3v13h-3zM524 161h3v13h-3zM555 161h3v13h-3zM170 174h3v13h-3zM240 174h2v13h-2zM455 174h2v13h-2zM485 174h3v13h-3zM524 174h3v13h-3zM223 187h3v12h-3zM273 187h3v12h-3zM284 187h3v12h-3zM318 187h3v12h-3zM429 187h3v12h-3zM460 187h3v12h-3zM496 187h3v12h-3zM499 187h3v12h-3zM502 187h3v12h-3zM187 199h2v13h-2zM265 199h3v13h-3zM276 199h3v13h-3zM290 199h3v13h-3zM326 199h3v13h-3zM441 199h2v13h-2zM491 199h3v13h-3zM536 199h2v13h-2zM550 199h2v13h-2zM203 212h3v13h-3zM220 212h3v13h-3zM234 212h3v13h-3zM270 212h3v13h-3zM276 212h3v13h-3zM284 212h3v13h-3zM301 212h3v13h-3zM410 212h3v13h-3zM418 212h3v13h-3zM488 212h3v13h-3zM156 225h3v13h-3zM234 225h3v13h-3zM262 225h3v13h-3zM281 225h3v13h-3zM284 225h3v13h-3zM298 225h3v13h-3zM323 225h3v13h-3zM326 225h3v13h-3zM357 225h3v13h-3zM374 225h2v13h-2zM382 225h3v13h-3zM435 225h3v13h-3zM438 225h3v13h-3zM460 225h3v13h-3zM134 238h2v12h-2zM145 238h2v12h-2zM214 238h3v12h-3zM248 238h3v12h-3zM276 238h3v12h-3zM279 238h2v12h-2zM379 238h3v12h-3zM413 238h3v12h-3zM496 238h3v12h-3zM552 238h3v12h-3zM189 250h3v13h-3zM279 250h2v13h-2zM315 250h3v13h-3zM362 250h3v13h-3zM379 250h3v13h-3zM438 250h3v13h-3zM443 250h3v13h-3zM508 250h2v13h-2zM533 250h3v13h-3zM541 250h3v13h-3zM153 263h3v13h-3zM195 263h3v13h-3zM212 263h2v13h-2zM226 263h2v13h-2zM304 263h3v13h-3zM340 263h3v13h-3zM399 263h3v13h-3zM432 263h3v13h-3zM485 263h3v13h-3zM502 263h3v13h-3zM550 263h2v13h-2zM552 263h3v13h-3zM170 276h3v12h-3zM198 276h3v12h-3zM240 276h2v12h-2zM268 276h2v12h-2zM293 276h2v12h-2zM388 276h2v12h-2zM404 276h3v12h-3zM432 276h3v12h-3zM541 276h3v12h-3zM566 276h3v12h-3zM187 288h2v13h-2zM318 288h3v13h-3zM510 288h3v13h-3zM508 301h2v13h-2zM513 314h3v12h-3z"/>
<path fill="#95be71" d="M362 136h3v13h-3zM432 136h3v13h-3zM429 161h3v13h-3zM139 174h3v13h-3zM446 174h3v13h-3zM449 174h3v13h-3zM217 199h3v13h-3zM416 199h2v13h-2zM187 212h2v13h-2zM429 212h3v13h-3zM544 212h3v13h-3zM351 238h3v12h-3zM374 238h2v12h-2zM488 238h3v12h-3zM474 250h3v13h-3zM262 263h3v13h-3zM189 288h3v13h-3z"/>
<path fill="#52ba92" d="M268 149h2v12h-2zM502 149h3v12h-3zM156 161h3v13h-3zM393 161h3v13h-3zM427 161h2v13h-2zM547 161h3v13h-3zM164 174h3v13h-3zM203 174h3v13h-3zM245 174h3v13h-3zM276 174h3v13h-3zM519 174h3v13h-3zM418 199h3v13h-3zM477 199h3v13h-3zM480 199h3v13h-3zM522 199h2v13h-2zM159 212h2v13h-2zM184 212h3v13h-3zM259 212h3v13h-3zM335 212h2v13h-2zM388 212h2v13h-2zM427 212h2v13h-2zM469 212h2v13h-2zM198 225h3v13h-3zM343 225h3v13h-3zM371 225h3v13h-3zM432 225h3v13h-3zM273 238h3v12h-3zM527 238h3v12h-3zM538 238h3v12h-3zM354 250h3v13h-3zM388 250h2v13h-2zM284 263h3v13h-3zM365 263h3v13h-3zM438 263h3v13h-3zM441 263h2v13h-2zM516 263h3v13h-3z"/>
<path fill="#fbe61d" d="M513 161h3v13h-3zM438 238h3v12h-3z"/>
<path fill="#d1bb59" d="M201 174h2v13h-2zM309 225h3v13h-3zM413 225h3v13h-3zM167 238h3v12h-3zM307 238h2v12h-2z"/>
<path fill="#f4c63b" d="M460 212h3v13h-3zM164 238h3v12h-3z"/>
<path fill="#f9f90f" d="M256 225h3v13h-3z"/>
<rect x="631" y="409" width="32" height="19" fill="#263ea8"/>
<rect x="631" y="390" width="32" height="19" fill="#1652cd"/>
<rect x="631" y="371" width="32" height="19" fill="#1064dc"/>
<rect x="631" y="352" width="32" height="19" fill="#1272d9"/>
<rect x="631" y="333" width="32" height="19" fill="#1481d6"/>
<rect x="631" y="314" width="32" height="19" fill="#0e8fd1"/>
<rect x="631" y="295" width="32" height="19" fill="#099dcc"/>
<rect x="631" y="276" width="32" height="19" fill="#0da7c3"/>
<rect x="631" y="257" width="32" height="19" fill="#1eafb3"/>
<rect x="631" y="238" width="32" height="19" fill="#2eb7a4"/>
<rect x="631" y="218" width="32" height="20" fill="#52ba92"/>
<rect x="631" y="199" width="32" height="19" fill="#74bd81"/>
<rect x="631" y="180" width="32" height="19" fill="#95be71"/>
<rect x="631" y="161" width="32" height="19" fill="#b3bd65"/>
<rect x="631" y="142" width="32" height="19" fill="#d1bb59"/>
<rect x="631" y="123" width="32" height="19" fill="#e2c04b"/>
<rect x="631" y="104" width="32" height="19" fill="#f4c63b"/>
<rect x="631" y="85" width="32" height="19" fill="#fdd22b"/>
<rect x="631" y="66" width="32" height="19" fill="#fbe61d"/>
<rect x="631" y="47" width="32" height="19" fill="#f9f90f"/>
<g fill="#000">
<rect x="69" y="47" width="560" height="1"/><rect x="69" y="428" width="560" height="1"/><rect x="69" y="47" width="1" height="382"/><rect x="628" y="47" width="1" height="382"/><rect x="69" y="416" width="1" height="12"/><rect x="88" y="422" width="1" height="6"/><rect x="107" y="422" width="1" height="6"/><rect x="125" y="422" width="1" height="6"/><rect x="144" y="422" width="1" height="6"/><rect x="162" y="416" width="1" height="12"/><rect x="181" y="422" width="1" height="6"/><rect x="200" y="422" width="1" height="6"/><rect x="218" y="422" width="1" height="6"/><rect x="237" y="422" width="1" height="6"/><rect x="255" y="416" width="1" height="12"/><rect x="274" y="422" width="1" height="6"/><rect x="293" y="422" width="1" height="6"/><rect x="311" y="422" width="1" height="6"/><rect x="330" y="422" width="1" height="6"/><rect x="349" y="416" width="1" height="12"/><rect x="367" y="422" width="1" height="6"/><rect x="386" y="422" width="1" height="6"/><rect x="404" y="422" width="1" height="6"/><rect x="423" y="422" width="1" height="6"/><rect x="442" y="416" width="1" height="12"/><rect x="460" y="422" width="1" height="6"/><rect x="479" y="422" width="1" height="6"/><rect x="497" y="422" width="1" height="6"/><rect x="516" y="422" width="1" height="6"/><rect x="535" y="416" width="1" height="12"/><rect x="553" y="422" width="1" height="6"/><rect x="572" y="422" width="1" height="6"/><rect x="590" y="422" width="1" height="6"/><rect x="609" y="422" width="1" height="6"/><rect x="628" y="416" width="1" height="12"/><rect x="69" y="428" width="18" height="1"/><rect x="69" y="415" width="10" height="1"/><rect x="69" y="403" width="10" height="1"/><rect x="69" y="390" width="10" height="1"/><rect x="69" y="377" width="10" height="1"/><rect x="69" y="364" width="18" height="1"/><rect x="69" y="352" width="10" height="1"/><rect x="69" y="339" width="10" height="1"/><rect x="69" y="326" width="10" height="1"/><rect x="69" y="314" width="10" height="1"/><rect x="69" y="301" width="18" height="1"/><rect x="69" y="288" width="10" height="1"/><rect x="69" y="276" width="10" height="1"/><rect x="69" y="263" width="10" height="1"/><rect x="69" y="250" width="10" height="1"/><rect x="69" y="238" width="18" height="1"/><rect x="69" y="225" width="10" height="1"/><rect x="69" y="212" width="10" height="1"/><rect x="69" y="199" width="10" height="1"/><rect x="69" y="187" width="10" height="1"/><rect x="69" y="174" width="18" height="1"/><rect x="69" y="161" width="10" height="1"/><rect x="69" y="149" width="10" height="1"/><rect x="69" y="136" width="10" height="1"/><rect x="69" y="123" width="10" height="1"/><rect x="69" y="111" width="18" height="1"/><rect x="69" y="98" width="10" height="1"/><rect x="69" y="85" width="10" height="1"/><rect x="69" y="72" width="10" height="1"/><rect x="69" y="60" width="10" height="1"/><rect x="69" y="47" width="18" height="1"/><rect x="663" y="47" width="1" height="382"/><rect x="646" y="428" width="17" height="1"/><rect x="646" y="390" width="17" height="1"/><rect x="646" y="352" width="17" height="1"/><rect x="646" y="314" width="17" height="1"/><rect x="646" y="276" width="17" height="1"/><rect x="646" y="238" width="17" height="1"/><rect x="646" y="199" width="17" height="1"/><rect x="646" y="161" width="17" height="1"/><rect x="646" y="123" width="17" height="1"/><rect x="646" y="85" width="17" height="1"/><rect x="646" y="47" width="17" height="1"/></g>
<rect x="544.5" y="30.5" width="140" height="115" fill="#fff" stroke="#000" stroke-width="1"/>
<rect x="544" y="49" width="141" height="1" fill="#000"/>
</svg>
<div class="t " style="left:195.5px;top:4.5px;font-size:23px;letter-spacing:-0.03px;">trigT0ThetaVSLocY_MB3_W0</div>
<div class="t xl" style="left:70.3px;top:431.6px;width:80px;margin-left:-41.4px;text-align:center;">−150</div>
<div class="t xl" style="left:162.4px;top:431.6px;width:80px;margin-left:-41.4px;text-align:center;">−100</div>
<div class="t xl" style="left:255.4px;top:431.6px;width:80px;margin-left:-41.4px;text-align:center;">−50</div>
<div class="t xl" style="left:349.4px;top:431.6px;width:80px;margin-left:-41.4px;text-align:center;">0</div>
<div class="t xl" style="left:442.8px;top:431.6px;width:80px;margin-left:-41.4px;text-align:center;">50</div>
<div class="t xl" style="left:537.1px;top:431.6px;width:80px;margin-left:-41.4px;text-align:center;">100</div>
<div class="t xl" style="left:629.2px;top:431.6px;width:80px;margin-left:-41.4px;text-align:center;">150</div>
<div class="t xl" style="right:632.0px;top:421.4px;">−15</div>
<div class="t xl" style="right:632.0px;top:357.9px;">−10</div>
<div class="t xl" style="right:632.0px;top:294.5px;">−5</div>
<div class="t xl" style="right:632.0px;top:231.0px;">0</div>
<div class="t xl" style="right:632.0px;top:167.5px;">5</div>
<div class="t xl" style="right:632.0px;top:104.1px;">10</div>
<div class="t xl" style="right:632.0px;top:40.6px;">15</div>
<div class="t xl" style="left:665.9px;top:421.8px;">0</div>
<div class="t xl" style="left:665.9px;top:383.7px;">1</div>
<div class="t xl" style="left:665.9px;top:345.6px;">2</div>
<div class="t xl" style="left:665.9px;top:307.6px;">3</div>
<div class="t xl" style="left:665.9px;top:269.5px;">4</div>
<div class="t xl" style="left:665.9px;top:231.4px;">5</div>
<div class="t xl" style="left:665.9px;top:193.3px;">6</div>
<div class="t xl" style="left:665.9px;top:155.2px;">7</div>
<div class="t " style="left:547px;top:35px;font-size:10px;">trigT0ThetaVSLocY_MB3_W0</div>
<div class="t st" style="left:551px;top:51.6px;">Entries</div>
<div class="t st" style="right:20.5px;top:51.6px;">4212</div>
<div class="t st" style="left:551px;top:71.4px;">Mean x</div>
<div class="t st" style="right:21.5px;top:71.4px;">−0.4369</div>
<div class="t st" style="left:551px;top:88.1px;">Mean y</div>
<div class="t st" style="right:20.9px;top:90.9px;">0.8502</div>
<div class="t st" style="left:551px;top:109.2px;">Std Dev x</div>
<div class="t st" style="right:21.5px;top:109.2px;">67.8</div>
<div class="t st" style="left:551px;top:126.8px;">Std Dev y</div>
<div class="t st" style="right:19.9px;top:128.1px;">4.691</div>
</body></html>
